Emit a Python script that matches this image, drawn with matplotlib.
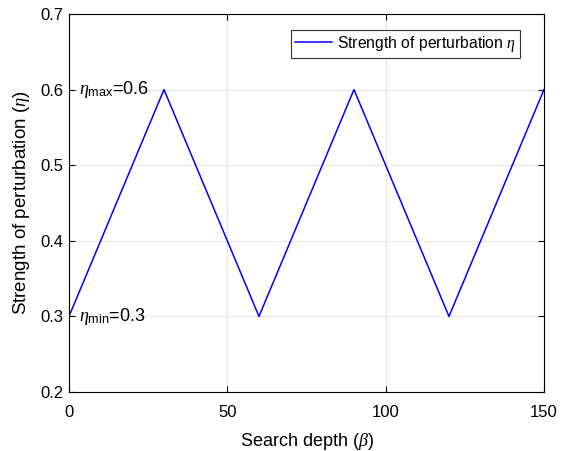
import matplotlib
matplotlib.use("Agg")
import matplotlib.pyplot as plt

plt.rcParams['font.family'] = ['Liberation Sans', 'DejaVu Sans']
plt.rcParams['mathtext.fontset'] = 'custom'
plt.rcParams['mathtext.it'] = 'Liberation Serif:italic'
plt.rcParams['mathtext.rm'] = 'Liberation Sans'

depth = [0, 30, 60, 90, 120, 150]
strength = [0.3, 0.6, 0.3, 0.6, 0.3, 0.6]
xticks = [0, 50, 100, 150]
yticks = [0.2, 0.3, 0.4, 0.5, 0.6, 0.7]

fig = plt.figure(figsize=(5.64, 4.51), dpi=100)
ax = fig.add_axes([0.1223, 0.1308, 0.8422, 0.8382])
ax.plot(depth, strength, color='#0000ff', lw=1.1, label=r'Strength of perturbation $\eta$')
ax.set_xlim(0, 150)
ax.set_ylim(0.2, 0.7)
ax.set_xticks(xticks)
ax.set_yticks(yticks)
ax.set_yticklabels([f'{v:.1f}' for v in yticks])
ax.grid(True, color='#e6e6e6', lw=0.8)
ax.set_axisbelow(True)
ax.tick_params(direction='in', top=True, right=True, labelsize=12, length=4.5, width=0.8, colors='black')
ax.tick_params(axis='x', pad=9)
ax.tick_params(axis='y', pad=4)
for s in ax.spines.values():
    s.set_linewidth(0.8)
ax.set_xlabel(r'Search depth ($\beta$)', fontsize=13, labelpad=8)
ax.set_ylabel(r'Strength of perturbation ($\eta$)', fontsize=13.5, labelpad=6)
ax.text(3.3, 0.6, r'$\eta_{\mathrm{max}}$=0.6', fontsize=13, va='center', ha='left')
ax.text(3.3, 0.3, r'$\eta_{\mathrm{min}}$=0.3', fontsize=13, va='center', ha='left')
leg = ax.legend(loc='upper right', bbox_to_anchor=(0.9495, 0.958), fontsize=11.3, fancybox=False,
                edgecolor='#333333', framealpha=1, handlelength=2.4, borderpad=0.25, handletextpad=0.3,
                borderaxespad=0)
leg.get_frame().set_linewidth(0.8)
fig.savefig('out.png', dpi=100)
